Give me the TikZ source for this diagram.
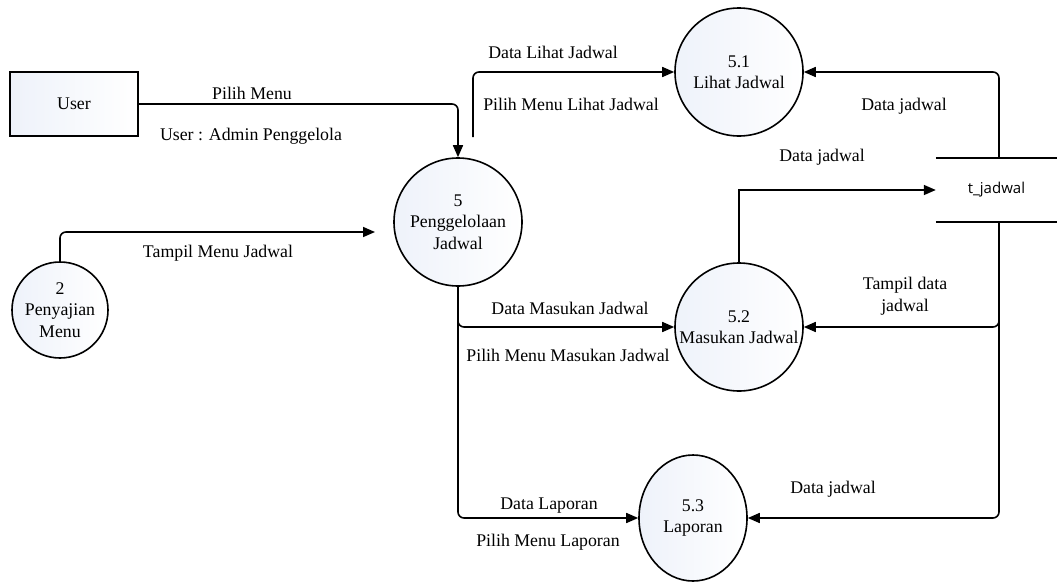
\documentclass[tikz,border=0pt]{standalone}
\usepackage{fontspec}
\setmainfont{Liberation Serif}
\newfontfamily\dfdfont{Liberation Serif}
\newfontfamily\storefont{Open Sans}
\usetikzlibrary{arrows.meta,shapes.geometric}
\definecolor{procfill}{HTML}{EEF2FA}
\tikzset{
  flow/.style={line width=1.6pt, rounded corners=6pt},
  arr/.style={flow, -{Triangle[length=12pt,width=10pt]}},
  procshade/.style={draw, line width=1.6pt, shading angle=135, left color=procfill, middle color=white!60!procfill, right color=white},
  procbase/.style={procshade, inner sep=0pt, align=center},
  proc/.style={procbase, circle, minimum size=128pt},
  ext/.style={procshade, rectangle, minimum width=128pt, minimum height=64pt},
  lbl/.style={inner sep=0pt, align=center},
}
\begin{document}
\begin{tikzpicture}[x=1pt, y=-1pt, font=\dfdfont\fontsize{17.8pt}{21.5pt}\selectfont]
\useasboundingbox (0,0) rectangle (1057,581);

% external entity and processes
\node[ext] (user) at (74,104) {User};
\node[proc, minimum size=96pt] (p2) at (60,310) {2\\Penyajian\\Menu};
\node[proc] (p5) at (458,222) {5\\Penggelolaan\\Jadwal};
\node[proc] (p51) at (739,72) {5.1\\Lihat Jadwal};
\node[proc] (p52) at (739,327) {5.2\\Masukan Jadwal};
\node[procbase, ellipse, minimum width=108pt, minimum height=126pt] (p53) at (693,518) {5.3\\Laporan};

% data store
\node[inner sep=0pt, minimum width=121pt, minimum height=64pt] (store) at (996.5,190) {\storefont\fontsize{15pt}{18pt}\selectfont t\_jadwal};
\draw[line width=1.6pt] (store.north west) -- (store.north east);
\draw[line width=1.6pt] (store.south west) -- (store.south east);
\coordinate (st) at (999,158);
\coordinate (sb) at (999,222);

% free ends
\coordinate (in5) at (375,232);
\coordinate (s51) at (473,137);

% flows
\draw[arr] (user.east) -| (p5.north);
\draw[arr] (p2.north) |- (in5);
\draw[arr] (s51) |- (p51.west);
\draw[arr] (st) |- (p51.east);
\draw[arr, rounded corners=0pt] (p52.north) |- (store.west);
\draw[arr] (sb) |- (p52.east);
\draw[arr] (sb) |- (p53.east);
\draw[arr] (p5.south) |- (p52.west);
\draw[arr] (p5.south) |- (p53.west);

% flow labels
\node[lbl] (l1) at (252,93) {Pilih Menu};
\node[lbl] (l2) at (251,136) {User : Admin Penggelola};
\node[lbl] (l3) at (218,253) {Tampil Menu Jadwal};
\node[lbl] (l4) at (553,52) {Data Lihat Jadwal};
\node[lbl] (l5) at (571,104) {Pilih Menu Lihat Jadwal};
\node[lbl] (l6) at (904,106) {Data jadwal};
\node[lbl] (l7) at (822,157) {Data jadwal};
\node[lbl] (l8) at (905,296) {Tampil data\\jadwal};
\node[lbl] (l9) at (570,308) {Data Masukan Jadwal};
\node[lbl] (l10) at (568,355) {Pilih Menu Masukan Jadwal};
\node[lbl] (l11) at (833,489) {Data jadwal};
\node[lbl] (l12) at (549,506) {Data Laporan};
\node[lbl] (l13) at (548,542) {Pilih Menu Laporan};
\end{tikzpicture}
\end{document}
